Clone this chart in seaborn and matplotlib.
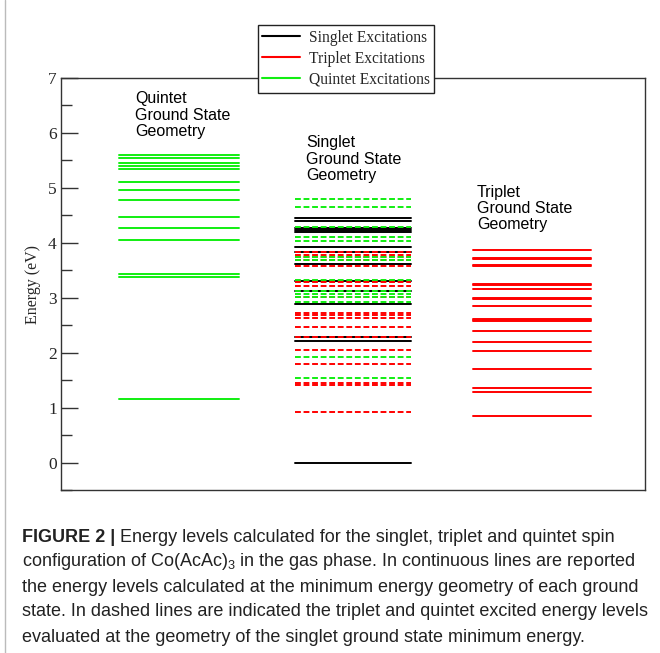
import numpy as np
import pandas as pd
import matplotlib
matplotlib.use("Agg")
import matplotlib.pyplot as plt
from matplotlib.lines import Line2D
import seaborn as sns

# Energy levels (eV) computed at each ground-state geometry
quintet_geom_quintet = [1.15, 3.38, 3.44, 4.05, 4.27, 4.47, 4.78, 4.97, 5.10,
                        5.35, 5.40, 5.45, 5.55, 5.60]
singlet_geom_singlet = [0.00, 2.22, 2.29, 2.89, 3.13, 3.31, 3.62, 3.84, 3.93,
                        4.19, 4.24, 4.27, 4.40, 4.45]
singlet_geom_triplet = [0.92, 1.42, 1.44, 1.79, 2.05, 2.28, 2.47, 2.63, 2.68,
                        2.72, 3.02, 3.22, 3.29, 3.58, 3.68, 3.75, 3.78, 3.84]
singlet_geom_quintet = [1.53, 1.93, 2.93, 3.02, 3.07, 3.12, 3.33, 3.69, 3.74,
                        4.03, 4.11, 4.28, 4.66, 4.80]
triplet_geom_triplet = [0.85, 1.28, 1.35, 1.70, 2.03, 2.20, 2.39, 2.58, 2.60,
                        2.62, 2.85, 2.97, 2.99, 3.15, 3.23, 3.25, 3.58, 3.60,
                        3.70, 3.72, 3.87]

spin_names = ["Singlet Excitations", "Triplet Excitations", "Quintet Excitations"]
geometry_labels = ["Quintet\nGround State\nGeometry",
                   "Singlet\nGround State\nGeometry",
                   "Triplet\nGround State\nGeometry"]

caption_head = "FIGURE 2 |"
caption_first = " Energy levels calculated for the singlet, triplet and quintet spin"
caption_lines = [
    "configuration of Co(AcAc)$_{\\mathregular{3}}$ in the gas phase. In continuous lines are reported",
    "the energy levels calculated at the minimum energy geometry of each ground",
    "state. In dashed lines are indicated the triplet and quintet excited energy levels",
    "evaluated at the geometry of the singlet ground state minimum energy.",
]

# horizontal span of each geometry column on the x axis
column_span = {"quintet": (1.0, 3.05), "singlet": (4.0, 6.0), "triplet": (7.05, 9.07)}

groups = [
    ("singlet", spin_names[0], "solid", singlet_geom_singlet),
    ("quintet", spin_names[2], "solid", quintet_geom_quintet),
    ("triplet", spin_names[1], "solid", triplet_geom_triplet),
    ("singlet", spin_names[1], "dashed", singlet_geom_triplet),
    ("singlet", spin_names[2], "dashed", singlet_geom_quintet),
]

rows = []
uid = 0
for geom, spin, style, levels in groups:
    x0, x1 = column_span[geom]
    for e in levels:
        rows.append({"x": x0, "energy": e, "spin": spin, "line": style, "level": uid})
        rows.append({"x": x1, "energy": e, "spin": spin, "line": style, "level": uid})
        uid += 1
df = pd.DataFrame(rows)

sns.set_theme(style="white")
serif = ["Liberation Serif", "DejaVu Serif"]
sans = ["Liberation Sans", "DejaVu Sans"]
plt.rcParams["font.family"] = serif
plt.rcParams["mathtext.fontset"] = "custom"

palette = {spin_names[0]: "#000000", spin_names[1]: "#ff0000", spin_names[2]: "#11ee11"}

fig = plt.figure(figsize=(6.6, 6.53), dpi=100)
ax = fig.add_axes([61 / 660, 1 - 490 / 653, (645 - 61) / 660, (490 - 78) / 653])

sns.lineplot(data=df, x="x", y="energy", hue="spin", hue_order=spin_names,
             style="line", style_order=["solid", "dashed"],
             dashes={"solid": "", "dashed": (3.0, 1.4)},
             units="level", estimator=None, sort=False, palette=palette,
             linewidth=1.4, legend=False, ax=ax)

ax.set_xlim(0, 10)
ax.set_ylim(-0.5, 7)
ax.set_xticks([])
ax.set_xlabel("")
ax.set_yticks(np.arange(0, 8, 1))
ax.set_yticks(np.arange(-0.5, 7.0, 0.5), minor=True)
ax.tick_params(axis="y", which="major", direction="in", length=12, width=1,
               color="#333333", left=True, pad=3, labelsize=12.5)
ax.tick_params(axis="y", which="minor", direction="in", length=8, width=1,
               color="#333333", left=True)
for lbl in ax.get_yticklabels():
    lbl.set_fontfamily(serif)
for sp in ax.spines.values():
    sp.set_visible(True)
    sp.set_color("#333333")
    sp.set_linewidth(1.0)
ax.set_ylabel("Energy (eV)", fontsize=11.5, family=serif, labelpad=5)

label_pos = [(1.27, 6.76), (4.2, 5.96), (7.12, 5.06)]
for (lx, ly), txt in zip(label_pos, geometry_labels):
    ax.text(lx, ly, txt, ha="left", va="top", fontsize=11.5, family=sans,
            linespacing=1.12, color="black")

handles = [Line2D([0], [0], color=palette[s], lw=1.5) for s in spin_names]
leg = fig.legend(handles, spin_names, loc="upper center",
                 bbox_to_anchor=(346 / 660, 1 - 25 / 653), frameon=True,
                 fancybox=False, edgecolor="#222222", framealpha=1,
                 prop={"family": serif, "size": 11.2}, handlelength=2.4,
                 handletextpad=0.6, labelspacing=0.33, borderpad=0.3,
                 borderaxespad=0)
leg.get_frame().set_linewidth(1.0)

# caption below the chart
cap_left = 22 / 660
cap_y = [537, 562, 587, 612, 637]
cap_size = 13.0
fig.canvas.draw()
renderer = fig.canvas.get_renderer()
head = fig.text(cap_left, 1 - cap_y[0] / 653, caption_head, ha="left", va="center",
                fontsize=cap_size, family=sans, weight="bold", color="#222222")
w = head.get_window_extent(renderer).width / fig.bbox.width
fig.text(cap_left + w, 1 - cap_y[0] / 653, caption_first, ha="left", va="center",
         fontsize=cap_size, family=sans, color="#222222")
for yy, line in zip(cap_y[1:], caption_lines):
    fig.text(cap_left, 1 - yy / 653, line, ha="left", va="center",
             fontsize=cap_size, family=sans, color="#222222")

# thin frame line along the left margin
fig.add_artist(Line2D([5 / 660, 5 / 660], [0, 1], transform=fig.transFigure,
                      color="#bbbbbb", lw=1))

fig.savefig("out.png", dpi=100)
